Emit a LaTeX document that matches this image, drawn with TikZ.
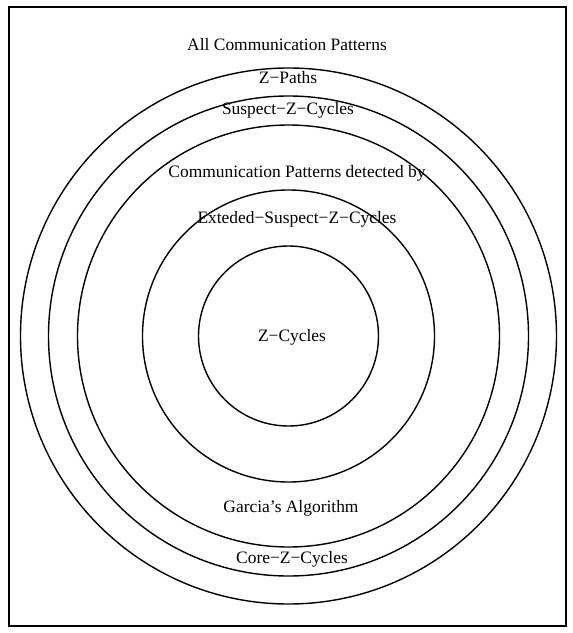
\documentclass[tikz,border=0pt]{standalone}
\usepackage{fontspec}
\setmainfont{Liberation Serif}
\usetikzlibrary{positioning}

\newcommand{\mn}{\char"2212\relax}

\begin{document}
\begin{tikzpicture}[
  x=1bp, y=-1bp,
  every node/.style={font=\fontsize{17.5}{21}\selectfont},
  ring/.style={draw, circle, line width=1.4bp, inner sep=0pt},
  label/.style={inner sep=1pt},
]
  \useasboundingbox (0,0) rectangle (573,633);
  \draw[line width=1.1bp] (9,7) rectangle (566,626);

  \coordinate (ctr) at (288.5,336);
  \node[ring, minimum size=536bp] (allring) at (ctr) {};
  \node[ring, minimum size=480bp] (pathring) at (ctr) {};
  \node[ring, minimum size=422bp] (suspring) at (ctr) {};
  \node[ring, minimum size=292bp] (extring) at (ctr) {};
  \node[ring, minimum size=180bp] (cycring) at (ctr) {};

  \node[label] (allpat) at (287,45) {All Communication Patterns};
  \node[label] (zpaths) at (288,78) {Z\mn Paths};
  \node[label] (suspect) at (288,110) {Suspect\mn Z\mn Cycles};
  \node[label] (detected) at (297,173) {Communication Patterns detected by};
  \node[label] (exteded) at (297,219) {Exteded\mn Suspect\mn Z\mn Cycles};
  \node[label] (zcycles) at (292,337) {Z\mn Cycles};
  \node[label] (garcia) at (291,508) {Garcia's Algorithm};
  \node[label] (core) at (292,559) {Core\mn Z\mn Cycles};
\end{tikzpicture}
\end{document}
